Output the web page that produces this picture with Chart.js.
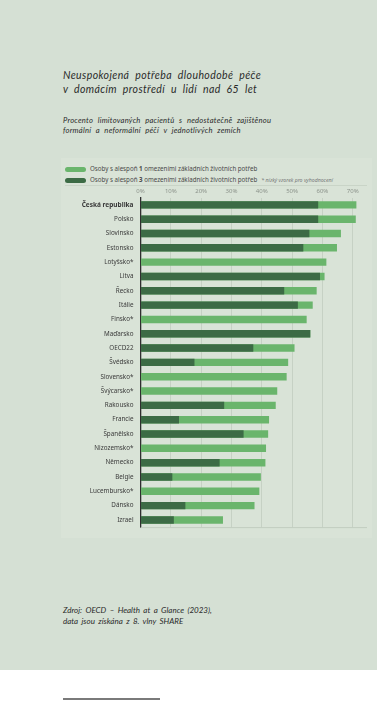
<!DOCTYPE html>
<html lang="cs">
<head>
<meta charset="utf-8">
<script src="https://cdn.jsdelivr.net/npm/chart.js@4.4.1/dist/chart.umd.min.js"></script>
<style>
  body { margin: 0; background: #fff; width: 387px; height: 703px; position: relative; overflow: hidden; }
  #page { position: absolute; left: 0; top: 0; width: 377px; height: 670px; background: #d5e0d4; }
  .title { position: absolute; left: 63px; top: 68px; font-family: Lato, sans-serif; font-style: italic; font-size: 10.5px; line-height: 14.3px; color: #2a2a2a; word-spacing: 3px; letter-spacing: 0.4px; }
  .subtitle { position: absolute; left: 63px; top: 116px; font-family: Lato, sans-serif; font-style: italic; font-size: 7.6px; line-height: 9.6px; color: #2a2a2a; word-spacing: 2.5px; letter-spacing: 0.25px; }
  .source { position: absolute; left: 63px; top: 605px; font-family: Lato, sans-serif; font-style: italic; font-size: 8px; line-height: 11.3px; color: #2a2a2a; word-spacing: 1.5px; }
  #panel { position: absolute; left: 61px; top: 158px; width: 311px; height: 380px; background: #d9e3d7; }
  .sep { position: absolute; left: 65px; top: 185px; width: 302px; height: 1px; background: #c9d4c7; }
  .legend { position: absolute; left: 65px; font-family: "Noto Sans", sans-serif; font-size: 6.2px; color: #4a4a4a; white-space: nowrap; }
  .legend .sw { display: inline-block; width: 21px; height: 5px; border-radius: 3px; vertical-align: middle; margin-right: 4px; }
  .legend .note { font-style: italic; font-size: 5.2px; color: #777; margin-left: 4px; }
  #wrap { position: absolute; left: 61px; top: 183px; width: 311px; height: 355px; }
  #rule { position: absolute; left: 63px; top: 698px; width: 97px; height: 2px; background: #7a7a7a; }
</style>
</head>
<body>
<div id="page">
  <div class="title">Neuspokojená potřeba dlouhodobé péče<br>v domácím prostředí u lidí nad 65 let</div>
  <div class="subtitle">Procento limitovaných pacientů s nedostatečně zajištěnou<br>formální a neformální péčí v jednotlivých zemích</div>
  <div id="panel"></div>
  <div class="legend" style="top:164px"><span class="sw" style="background:#6ab56c"></span>Osoby s alespoň <b>1</b> omezeními základních životních potřeb</div>
  <div class="legend" style="top:175px"><span class="sw" style="background:#3c6b45"></span>Osoby s alespoň <b>3</b> omezeními základních životních potřeb<span class="note">* nízký vzorek pro vyhodnocení</span></div>
  <div class="sep"></div>
  <div id="wrap"><canvas id="chart"></canvas></div>
  <div class="source">Zdroj: OECD – Health at a Glance (2023),<br>data jsou získána z 8. vlny SHARE</div>
</div>
<div id="rule"></div>

<script>
// Countries, top to bottom
const countries = [
  "Česká republika", "Polsko", "Slovinsko", "Estonsko", "Lotyšsko*", "Litva",
  "Řecko", "Itálie", "Finsko*", "Maďarsko", "OECD22", "Švédsko", "Slovensko*",
  "Švýcarsko*", "Rakousko", "Francie", "Španělsko", "Nizozemsko*", "Německo",
  "Belgie", "Lucembursko*", "Dánsko", "Izrael"
];

// % with at least 1 limitation (light green)
const atLeastOne = [
  71.2, 71.0, 66.1, 64.8, 61.3, 60.7, 58.1, 56.8, 54.8, 56.0, 50.8, 48.7, 48.2,
  45.1, 44.6, 42.4, 42.1, 41.4, 41.2, 39.7, 39.2, 37.6, 27.2
];

// % with at least 3 limitations (dark green), null = sample too small
const atLeastThree = [
  58.6, 58.6, 55.7, 53.7, null, 59.2, 47.4, 51.9, null, 56.0, 37.2, 17.8, null,
  null, 27.6, 12.7, 34.0, null, 26.1, 10.5, null, 14.8, 11.0
];

const xTicks = [0, 10, 20, 30, 40, 50, 60, 70];

// thin line under the plot
const bottomLine = {
  id: "bottomLine",
  afterDraw(chart) {
    const { ctx, chartArea } = chart;
    ctx.save();
    ctx.strokeStyle = "#c2cdc0";
    ctx.lineWidth = 1;
    ctx.beginPath();
    ctx.moveTo(chartArea.left, chartArea.bottom + 0.5);
    ctx.lineTo(chartArea.right, chartArea.bottom + 0.5);
    ctx.stroke();
    ctx.restore();
  }
};

new Chart(document.getElementById("chart"), {
  type: "bar",
  data: {
    labels: countries,
    datasets: [
      {
        label: "Osoby s alespoň 1 omezeními základních životních potřeb",
        data: atLeastOne,
        backgroundColor: "#6ab56c",
        order: 2
      },
      {
        label: "Osoby s alespoň 3 omezeními základních životních potřeb",
        data: atLeastThree,
        backgroundColor: "#3c6b45",
        order: 1
      }
    ]
  },
  options: {
    indexAxis: "y",
    responsive: true,
    maintainAspectRatio: false,
    animation: false,
    grouped: false,
    categoryPercentage: 1,
    barPercentage: 0.52,
    layout: { padding: { right: 5, bottom: 5 } },
    plugins: { legend: { display: false }, tooltip: { enabled: false } },
    scales: {
      x: {
        position: "top",
        min: 0,
        max: 74.7,
        afterBuildTicks(scale) {
          scale.ticks = xTicks.map(v => ({ value: v }));
        },
        afterFit(scale) { scale.height = 14.7; },
        border: { display: false },
        grid: { color: "#c6d1c4", lineWidth: 1, drawTicks: false },
        ticks: {
          padding: 3,
          color: "#8c938b",
          font: { family: "Noto Sans", size: 6 },
          callback: v => v + "%"
        }
      },
      y: {
        afterFit(scale) { scale.width = 79.5; },
        border: { display: true, color: "#2f2f2f", width: 1.3 },
        grid: { display: false, drawTicks: false },
        ticks: {
          padding: 7,
          color: "#3a3a3a",
          font: ctx => ctx.index === 0
            ? { family: "Noto Sans", size: 6.5, weight: "bold" }
            : { family: "Noto Sans", size: 6.3 }
        }
      }
    }
  },
  plugins: [bottomLine]
});
</script>
</body>
</html>
